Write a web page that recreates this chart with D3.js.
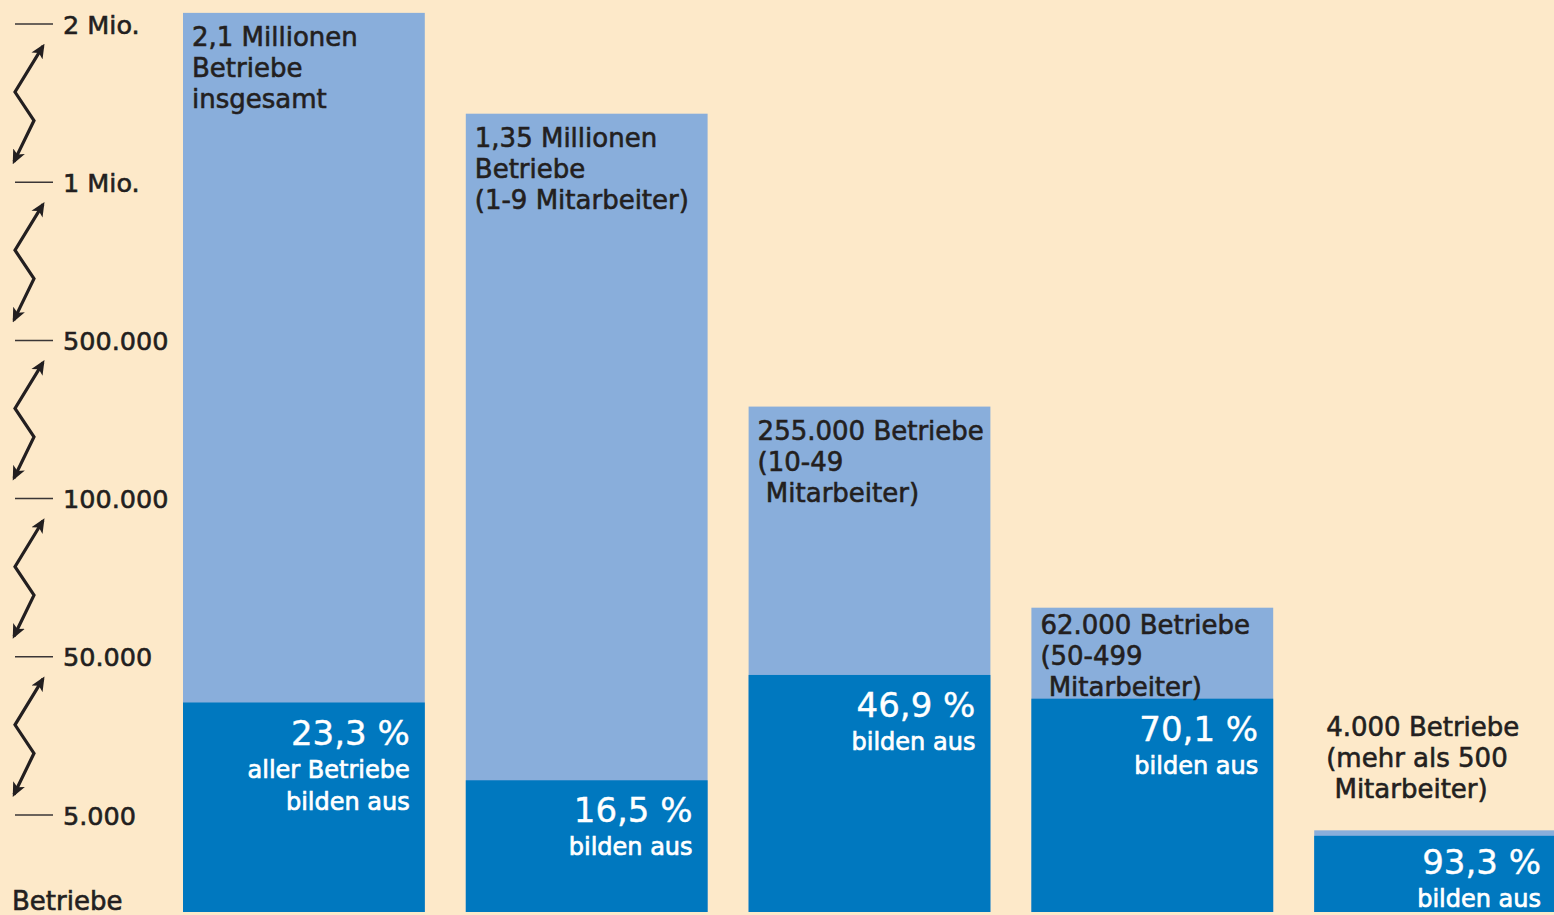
<!DOCTYPE html>
<html>
<head>
<meta charset="utf-8">
<script src="https://d3js.org/d3.v7.min.js"></script>
<style>
  body { margin: 0; background: #fde9c9; }
  svg { display: block; font-family: "DejaVu Sans", "Open Sans", sans-serif; }
</style>
</head>
<body>
<script>
  // data
  var categories = ["insgesamt", "1-9", "10-49", "50-499", "500+"];
  var betriebe = [2100000, 1350000, 255000, 62000, 4000];
  var bildenAus = [23.3, 16.5, 46.9, 70.1, 93.3];
  var barLabels = [
    ["2,1 Millionen", "Betriebe", "insgesamt"],
    ["1,35 Millionen", "Betriebe", "(1-9 Mitarbeiter)"],
    ["255.000 Betriebe", "(10-49", "\u00a0Mitarbeiter)"],
    ["62.000 Betriebe", "(50-499", "\u00a0Mitarbeiter)"],
    ["4.000 Betriebe", "(mehr als 500", "\u00a0Mitarbeiter)"]
  ];
  var pctLabels = ["23,3 %", "16,5 %", "46,9 %", "70,1 %", "93,3 %"];
  var pctSubLabels = [
    ["aller Betriebe", "bilden aus"],
    ["bilden aus"], ["bilden aus"], ["bilden aus"], ["bilden aus"]
  ];
  var tickValues = [5000, 50000, 100000, 500000, 1000000, 2000000];
  var tickLabels = ["5.000", "50.000", "100.000", "500.000", "1 Mio.", "2 Mio."];

  var width = 1554, height = 915;
  var baseY = 912;        // bottom of the bars
  var lowTickY = 815, tickStep = 158.2;
  var lineH = 31;
  var textColor = "#231f20";
  var lightBlue = "#89aedb", darkBlue = "#0078bf";

  var svg = d3.select("body").append("svg")
    .attr("width", width)
    .attr("height", height);

  svg.append("rect")
    .attr("width", width).attr("height", height)
    .style("fill", "#fde9c9");

  // broken axis: ticks evenly spaced, log-interpolated between them
  var y = d3.scaleLog()
    .domain(tickValues)
    .range(tickValues.map(function(d, i) { return lowTickY - i * tickStep; }));

  var x = d3.scaleBand()
    .domain(categories)
    .range([183, 1556])
    .paddingInner(0.145)
    .paddingOuter(0);

  // slightly heavier text, like the semibold original
  function heavy(sel, color, w) {
    return sel.style("fill", color)
      .style("stroke", color)
      .style("stroke-width", w)
      .style("paint-order", "stroke");
  }

  // arrowhead marker
  svg.append("defs").append("marker")
    .attr("id", "arrow")
    .attr("viewBox", "0 0 10 10")
    .attr("refX", 8).attr("refY", 5)
    .attr("markerWidth", 4.5).attr("markerHeight", 4.5)
    .attr("markerUnits", "strokeWidth")
    .attr("orient", "auto-start-reverse")
    .append("path")
    .attr("d", "M0,0.5 L10,5 L0,9.5 L2.5,5 Z")
    .style("fill", textColor);

  // axis ticks and labels
  var ticks = svg.append("g");
  ticks.selectAll("line")
    .data(tickValues)
    .enter().append("line")
    .attr("x1", 15).attr("x2", 53)
    .attr("y1", function(d) { return y(d); })
    .attr("y2", function(d) { return y(d); })
    .attr("stroke", "#3a3636")
    .attr("stroke-width", 1.5);

  ticks.selectAll("text")
    .data(tickValues)
    .enter().append("text")
    .attr("x", 63)
    .attr("y", function(d) { return y(d) + 9.5; })
    .style("font-size", "25.5px")
    .call(heavy, textColor, 0.6)
    .text(function(d, i) { return tickLabels[i]; });

  svg.append("text")
    .attr("x", 12).attr("y", 910)
    .style("font-size", "26px")
    .call(heavy, textColor, 0.6)
    .text("Betriebe");

  // zigzag break arrows between ticks
  var segs = d3.pairs(tickValues);
  var zig = d3.line();
  svg.append("g").selectAll("path")
    .data(segs)
    .enter().append("path")
    .attr("d", function(p) {
      var t = y(p[1]), L = y(p[0]) - t;
      return zig([[43, t + 0.14 * L], [15, t + 0.43 * L], [34, t + 0.61 * L], [14, t + 0.87 * L]]);
    })
    .attr("fill", "none")
    .attr("stroke", textColor)
    .attr("stroke-width", 3.2)
    .attr("marker-start", "url(#arrow)")
    .attr("marker-end", "url(#arrow)");

  // bars
  var bars = svg.append("g").selectAll("g")
    .data(categories)
    .enter().append("g");

  bars.append("rect")
    .attr("x", function(d) { return x(d); })
    .attr("y", function(d, i) { return y(betriebe[i]); })
    .attr("width", x.bandwidth())
    .attr("height", function(d, i) { return baseY - y(betriebe[i]); })
    .style("fill", lightBlue);

  // dark part: share of the bar's height
  function darkTop(i) {
    var h = baseY - y(betriebe[i]);
    return baseY - h * bildenAus[i] / 100;
  }

  bars.append("rect")
    .attr("x", function(d) { return x(d); })
    .attr("y", function(d, i) { return darkTop(i); })
    .attr("width", x.bandwidth())
    .attr("height", function(d, i) { return baseY - darkTop(i); })
    .style("fill", darkBlue);

  // labels in (or above, if too short) the light part
  bars.each(function(d, i) {
    var g = d3.select(this);
    var top = y(betriebe[i]);
    var dt = darkTop(i);
    var n = barLabels[i].length;
    var inside = baseY - top > 150;
    var startY = inside ? Math.min(top + 33, dt - 3 - (n - 1) * lineH) : top - 32 - (n - 1) * lineH;
    var lx = x(d) + (inside ? 9 : 12);
    barLabels[i].forEach(function(line, j) {
      g.append("text")
        .attr("x", lx)
        .attr("y", startY + j * lineH)
        .style("font-size", "26px")
        .call(heavy, textColor, 0.6)
        .text(line);
    });

    var rx = x(d) + x.bandwidth() - 15;
    var subs = pctSubLabels[i];
    var pctOff = Math.min(42, (baseY - 5 - dt) - 33 - 32 * (subs.length - 1));
    g.append("text")
      .attr("x", rx)
      .attr("y", dt + pctOff)
      .attr("text-anchor", "end")
      .style("font-size", "34px")
      .call(heavy, "white", 0.4)
      .text(pctLabels[i]);
    subs.forEach(function(line, j) {
      g.append("text")
        .attr("x", rx)
        .attr("y", dt + pctOff + 33 + j * 32)
        .attr("text-anchor", "end")
        .style("font-size", "24px")
        .call(heavy, "white", 0.7)
        .text(line);
    });
  });
</script>
</body>
</html>
